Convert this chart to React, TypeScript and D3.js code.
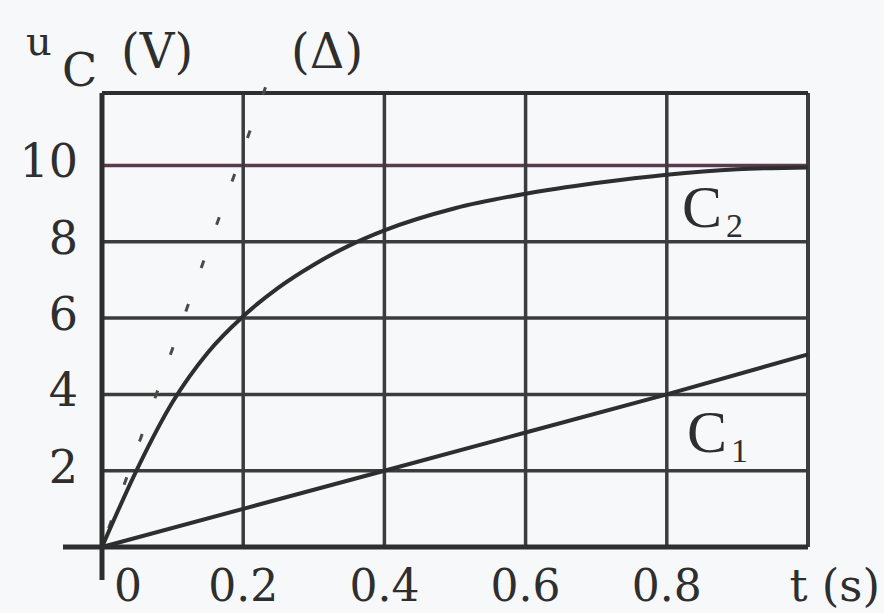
import React, { Component } from 'react'
import * as d3 from 'd3'

// time axis (s) and voltage axis (V)
const timeTicks = [0, 0.2, 0.4, 0.6, 0.8]
const timeGrid = [0.2, 0.4, 0.6, 0.8, 1.0]
const voltTicks = [2, 4, 6, 8, 10]
const timeLabels = ['0', '0.2', '0.4', '0.6', '0.8']
const voltLabels = ['2', '4', '6', '8', '10']

// charging curves
const c2Time = [0, 0.05, 0.1, 0.15, 0.2, 0.25, 0.3, 0.35, 0.4, 0.5, 0.6, 0.7, 0.8, 0.9, 1.0]
const c2Volt = [0, 2.05, 3.8, 5.1, 6.05, 6.8, 7.4, 7.9, 8.3, 8.88, 9.26, 9.54, 9.76, 9.9, 9.95]
const c1Time = [0, 0.2, 0.4, 0.6, 0.8, 1.0]
const c1Volt = [0, 1, 2, 3, 4, 5.05]
// tangent (Δ) at the origin
const tangentTime = [0, 0.246]
const tangentVolt = [0, 12.8]

const W = 884
const H = 613

class App extends Component {
  node: SVGSVGElement | null = null

  componentDidMount() {
    this.draw()
  }

  componentWillUnmount() {
    if (this.node) d3.select(this.node).selectAll('*').remove()
  }

  draw = () => {
    const svg = d3.select(this.node)
    svg.selectAll('*').remove()

    const x = d3.scaleLinear().domain([0, 1]).range([102, 808])
    const y = d3.scaleLinear().domain([0, 11.9]).range([547, 93])
    const serif = 'DejaVu Serif, serif'
    const ink = '#2e2e2e'

    svg.append('rect').attr('width', W).attr('height', H).attr('fill', '#f7f8f9')

    // horizontal grid
    svg.selectAll('.hgrid')
      .data(voltTicks)
      .enter()
      .append('line')
      .attr('x1', x(0)).attr('x2', x(1))
      .attr('y1', d => y(d)).attr('y2', d => y(d))
      .attr('stroke', d => (d === 10 ? '#5a3a4e' : '#3c3c3c'))
      .attr('stroke-width', 3.5)

    // vertical grid + right border
    svg.selectAll('.vgrid')
      .data(timeGrid)
      .enter()
      .append('line')
      .attr('x1', d => x(d)).attr('x2', d => x(d))
      .attr('y1', y(11.9)).attr('y2', y(0))
      .attr('stroke', '#3c3c3c')
      .attr('stroke-width', d => (d === 1 ? 4 : 3.5))

    // top border
    svg.append('line')
      .attr('x1', x(0)).attr('x2', x(1))
      .attr('y1', y(11.9)).attr('y2', y(11.9))
      .attr('stroke', ink).attr('stroke-width', 4)

    // axes
    svg.append('line')
      .attr('x1', 63).attr('x2', x(1))
      .attr('y1', y(0)).attr('y2', y(0))
      .attr('stroke', ink).attr('stroke-width', 5)
    svg.append('line')
      .attr('x1', x(0)).attr('x2', x(0))
      .attr('y1', y(11.9)).attr('y2', 580)
      .attr('stroke', ink).attr('stroke-width', 5)

    // tangent Δ
    const tangent = d3.line<number>().x(d => x(d)).y((d, i) => y(tangentVolt[i]))
    svg.append('path')
      .attr('d', tangent(tangentTime))
      .attr('fill', 'none')
      .attr('stroke', '#4a4a4a')
      .attr('stroke-width', 3)
      .attr('stroke-dasharray', '8 38')
      .attr('stroke-dashoffset', -20)

    const c2Line = d3.line<number>().x(d => x(d)).y((d, i) => y(c2Volt[i])).curve(d3.curveMonotoneX)
    svg.append('path')
      .attr('d', c2Line(c2Time))
      .attr('fill', 'none')
      .attr('stroke', ink)
      .attr('stroke-width', 4)

    const c1Line = d3.line<number>().x(d => x(d)).y((d, i) => y(c1Volt[i]))
    svg.append('path')
      .attr('d', c1Line(c1Time))
      .attr('fill', 'none')
      .attr('stroke', ink)
      .attr('stroke-width', 4)

    // tick labels
    svg.selectAll('.ylab')
      .data(voltTicks)
      .enter()
      .append('text')
      .attr('x', 78)
      .attr('y', d => y(d) + 12)
      .attr('text-anchor', 'end')
      .attr('font-family', serif)
      .attr('font-size', 46)
      .attr('fill', ink)
      .text((d, i) => voltLabels[i])

    svg.selectAll('.xlab')
      .data(timeTicks)
      .enter()
      .append('text')
      .attr('x', d => (d === 0 ? x(d) + 26 : x(d)))
      .attr('y', 601)
      .attr('text-anchor', 'middle')
      .attr('font-family', serif)
      .attr('font-size', 44)
      .attr('fill', ink)
      .text((d, i) => timeLabels[i])

    svg.append('text')
      .attr('x', 880).attr('y', 601)
      .attr('text-anchor', 'end')
      .attr('font-family', serif)
      .attr('font-size', 45)
      .attr('fill', ink)
      .text('t (s)')

    // axis title
    svg.append('text').attr('x', 26).attr('y', 55)
      .attr('font-family', serif).attr('font-size', 40).attr('fill', ink).text('u')
    svg.append('text').attr('x', 62).attr('y', 86)
      .attr('font-family', serif).attr('font-size', 46).attr('fill', ink).text('C')
    svg.append('text').attr('x', 121).attr('y', 68)
      .attr('font-family', serif).attr('font-size', 48).attr('fill', ink).text('(V)')
    svg.append('text').attr('x', 291).attr('y', 68)
      .attr('font-family', serif).attr('font-size', 48).attr('fill', ink).text('(Δ)')

    // curve labels
    const curveLabels = [
      { name: 'C', sub: '2', x: 682, y: 227 },
      { name: 'C', sub: '1', x: 687, y: 452 }
    ]
    curveLabels.forEach(l => {
      const t = svg.append('text')
        .attr('x', l.x).attr('y', l.y)
        .attr('font-family', "'Liberation Serif', serif")
        .attr('font-size', 60)
        .attr('fill', ink)
      t.append('tspan').text(l.name)
      t.append('tspan').attr('font-size', 34).attr('dx', 4).attr('dy', 10).text(l.sub)
    })
  }

  render() {
    return (
      <svg
        ref={n => { this.node = n }}
        width={W}
        height={H}
        style={{ position: 'absolute', left: 0, top: 0 }}
      />
    )
  }
}

export default App
